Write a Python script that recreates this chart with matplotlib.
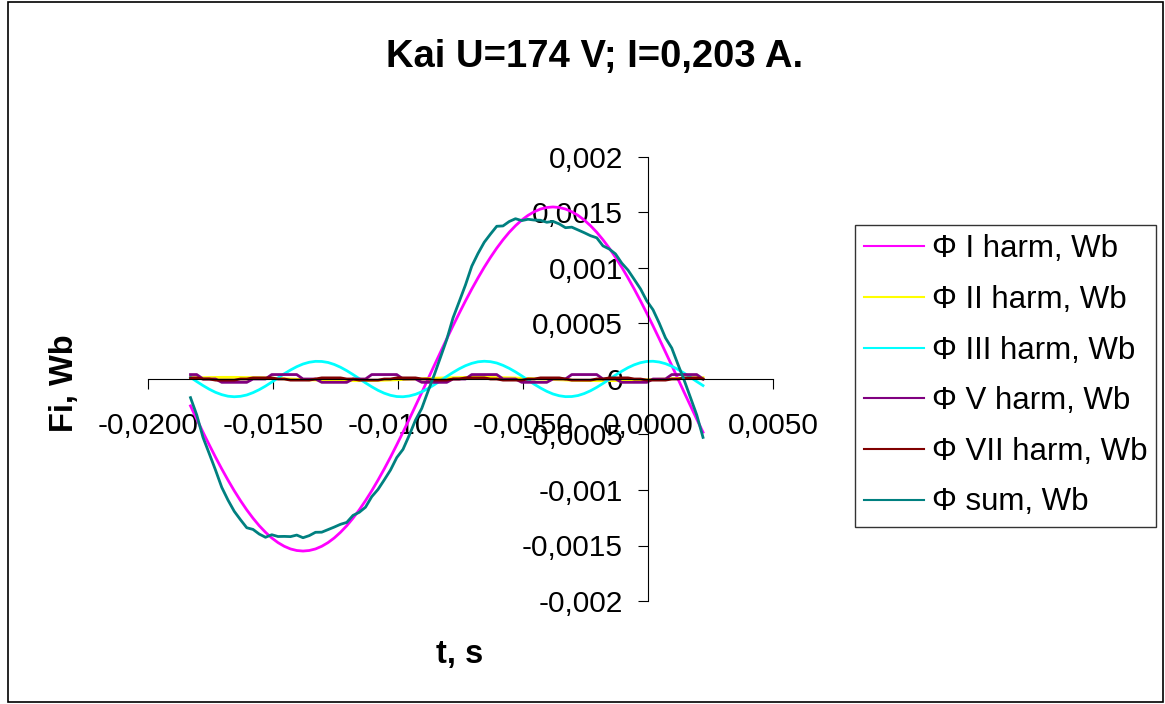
import matplotlib
matplotlib.use("Agg")
import matplotlib.pyplot as plt
import numpy as np
from matplotlib.patches import Rectangle

plt.rcParams['font.family'] = ['Liberation Sans', 'DejaVu Sans']

# time samples, s (even step of 0.25 ms)
t = np.linspace(-0.0183, 0.0022, 83)

# flux values, in units of 1e-4 Wb
phi1 = [-2.42, -3.62, -4.79, -5.93, -7.04, -8.10, -9.11, -10.07, -10.96, -11.79,
        -12.54, -13.22, -13.81, -14.32, -14.74, -15.07, -15.31, -15.45, -15.50, -15.45,
        -15.31, -15.07, -14.74, -14.32, -13.81, -13.22, -12.54, -11.79, -10.96, -10.07,
        -9.11, -8.10, -7.04, -5.93, -4.79, -3.62, -2.42, -1.22, 0.00, 1.22,
        2.42, 3.62, 4.79, 5.93, 7.04, 8.10, 9.11, 10.07, 10.96, 11.79,
        12.54, 13.22, 13.81, 14.32, 14.74, 15.07, 15.31, 15.45, 15.50, 15.45,
        15.31, 15.07, 14.74, 14.32, 13.81, 13.22, 12.54, 11.79, 10.96, 10.07,
        9.11, 8.10, 7.04, 5.93, 4.79, 3.62, 2.42, 1.22, 0.00, -1.22,
        -2.42, -3.62, -4.79]
phi2 = [0.09, 0.11, 0.12, 0.13, 0.14, 0.15, 0.15, 0.15, 0.14, 0.13,
        0.12, 0.11, 0.09, 0.07, 0.05, 0.02, 0.00, -0.02, -0.05, -0.07,
        -0.09, -0.11, -0.12, -0.13, -0.14, -0.15, -0.15, -0.15, -0.14, -0.13,
        -0.12, -0.11, -0.09, -0.07, -0.05, -0.02, 0.00, 0.02, 0.05, 0.07,
        0.09, 0.11, 0.12, 0.13, 0.14, 0.15, 0.15, 0.15, 0.14, 0.13,
        0.12, 0.11, 0.09, 0.07, 0.05, 0.02, 0.00, -0.02, -0.05, -0.07,
        -0.09, -0.11, -0.12, -0.13, -0.14, -0.15, -0.15, -0.15, -0.14, -0.13,
        -0.12, -0.11, -0.09, -0.07, -0.05, -0.02, 0.00, 0.02, 0.05, 0.07,
        0.09, 0.11, 0.12]
phi3 = [0.15, -0.23, -0.59, -0.92, -1.20, -1.41, -1.55, -1.60, -1.56, -1.44,
        -1.23, -0.96, -0.64, -0.28, 0.10, 0.47, 0.81, 1.11, 1.35, 1.51,
        1.59, 1.58, 1.49, 1.31, 1.06, 0.75, 0.40, 0.03, -0.35, -0.70,
        -1.02, -1.28, -1.47, -1.58, -1.60, -1.53, -1.38, -1.15, -0.86, -0.52,
        -0.15, 0.23, 0.59, 0.92, 1.20, 1.41, 1.55, 1.60, 1.56, 1.44,
        1.23, 0.96, 0.64, 0.28, -0.10, -0.47, -0.81, -1.11, -1.35, -1.51,
        -1.59, -1.58, -1.49, -1.31, -1.06, -0.75, -0.40, -0.03, 0.35, 0.70,
        1.02, 1.28, 1.47, 1.58, 1.60, 1.53, 1.38, 1.15, 0.86, 0.52,
        0.15, -0.23, -0.59]
phi5 = [0.4, 0.4, 0, 0, 0, -0.3, -0.3, -0.3, -0.3, -0.3,
        0, 0, 0, 0.4, 0.4, 0.4, 0.4, 0.4, 0, 0,
        0, -0.3, -0.3, -0.3, -0.3, -0.3, 0, 0, 0, 0.4,
        0.4, 0.4, 0.4, 0.4, 0, 0, 0, -0.3, -0.3, -0.3,
        -0.3, -0.3, 0, 0, 0, 0.4, 0.4, 0.4, 0.4, 0.4,
        0, 0, 0, -0.3, -0.3, -0.3, -0.3, -0.3, 0, 0,
        0, 0.4, 0.4, 0.4, 0.4, 0.4, 0, 0, 0, -0.3,
        -0.3, -0.3, -0.3, -0.3, 0, 0, 0, 0.4, 0.4, 0.4,
        0.4, 0.4, 0]
phi7 = [0.1, 0.1, 0, 0, -0.1, -0.1, -0.1, -0.1, 0, 0,
        0.1, 0.1, 0.1, 0.1, 0, 0, -0.1, -0.1, -0.1, -0.1,
        0, 0.1, 0.1, 0.1, 0.1, 0, 0, -0.1, -0.1, -0.1,
        -0.1, 0, 0, 0.1, 0.1, 0.1, 0.1, 0, 0, -0.1,
        -0.1, -0.1, 0, 0, 0.1, 0.1, 0.1, 0.1, 0, 0,
        -0.1, -0.1, -0.1, -0.1, 0, 0, 0.1, 0.1, 0.1, 0.1,
        0, -0.1, -0.1, -0.1, -0.1, 0, 0, 0.1, 0.1, 0.1,
        0.1, 0, 0, -0.1, -0.1, -0.1, -0.1, 0, 0, 0.1,
        0.1, 0.1, 0]
phi_sum = [-1.68, -3.24, -5.26, -6.72, -8.20, -9.76, -10.91, -11.92, -12.68, -13.40,
           -13.55, -13.97, -14.26, -14.03, -14.19, -14.18, -14.20, -14.06, -14.30, -14.11,
           -13.81, -13.80, -13.57, -13.34, -13.09, -12.92, -12.29, -12.01, -11.55, -10.60,
           -9.95, -9.09, -8.20, -7.08, -6.34, -5.07, -3.70, -2.65, -1.11, 0.37,
           1.96, 3.56, 5.50, 6.98, 8.48, 10.16, 11.31, 12.32, 13.06, 13.76,
           13.79, 14.19, 14.44, 14.27, 14.39, 14.32, 14.30, 14.12, 14.20, 13.97,
           13.63, 13.68, 13.43, 13.18, 12.91, 12.72, 11.99, 11.71, 11.27, 10.44,
           9.81, 8.97, 8.12, 7.04, 6.24, 5.03, 3.70, 2.79, 1.31, -0.13,
           -1.68, -3.24, -5.26]
scale = 1e-4

names = ['Φ I harm, Wb', 'Φ II harm, Wb', 'Φ III harm, Wb',
         'Φ V harm, Wb', 'Φ VII harm, Wb', 'Φ sum, Wb']
colors = ['#FF00FF', '#FFFF00', '#00FFFF', '#800080', '#800000', '#008080']

x_ticks = [-0.02, -0.015, -0.01, -0.005, 0.0, 0.005]
x_labels = ['-0,0200', '-0,0150', '-0,0100', '-0,0050', '0,0000', '0,0050']
y_ticks = [-0.002, -0.0015, -0.001, -0.0005, 0.0, 0.0005, 0.001, 0.0015, 0.002]
y_labels = ['-0,002', '-0,0015', '-0,001', '-0,0005', '0',
            '0,0005', '0,001', '0,0015', '0,002']

fig = plt.figure(figsize=(11.65, 7.04), dpi=100)
ax = fig.add_axes([148/1165, 103/704, 625/1165, 444/704])

series = [phi1, phi2, phi3, phi5, phi7, phi_sum]
for vals, name, col in zip(series, names, colors):
    ax.plot(t, np.array(vals) * scale, color=col, lw=2.0, label=name)

ax.set_xlim(-0.02, 0.005)
ax.set_ylim(-0.002, 0.002)

# Excel-like axes crossing at zero
ax.spines['left'].set_position(('data', 0))
ax.spines['bottom'].set_position(('data', 0))
ax.spines['top'].set_visible(False)
ax.spines['right'].set_visible(False)
for s in ['left', 'bottom']:
    ax.spines[s].set_linewidth(0.8)
    ax.spines[s].set_color('black')

ax.set_xticks(x_ticks)
ax.set_xticklabels(x_labels)
ax.set_yticks(y_ticks)
ax.set_yticklabels(y_labels)
ax.tick_params(axis='x', length=7, width=0.8, pad=17, labelsize=21.5)
ax.tick_params(axis='y', length=7, width=0.8, pad=11, labelsize=21.5)
ax.patch.set_alpha(0)

fig.text(595/1165, 1 - 57/704, 'Kai U=174 V; I=0,203 A.', ha='center', va='center',
         fontsize=27.5, fontweight='bold')
fig.text(460/1165, 1 - 655/704, 't, s', ha='center', va='center',
         fontsize=23.5, fontweight='bold')
fig.text(64/1165, 1 - 383/704, 'Fi, Wb', ha='center', va='center', rotation=90,
         fontsize=23.5, fontweight='bold')

leg = ax.legend(loc='upper left', bbox_to_anchor=(855/1165, 1 - 225/704),
                bbox_transform=fig.transFigure, fontsize=22.5, frameon=True,
                fancybox=False, shadow=False, borderaxespad=0, borderpad=0.3,
                handlelength=1.9, handletextpad=0.25, labelspacing=0.66)
leg.get_frame().set_edgecolor('black')
leg.get_frame().set_linewidth(1.0)
for line in leg.get_lines():
    line.set_linewidth(1.5)

# outer chart border
fig.patches.append(Rectangle((8/1165, 2/704), 1155/1165, 700/704, transform=fig.transFigure,
                             fill=False, edgecolor='black', lw=1.2))

fig.savefig('out.png', dpi=100)
